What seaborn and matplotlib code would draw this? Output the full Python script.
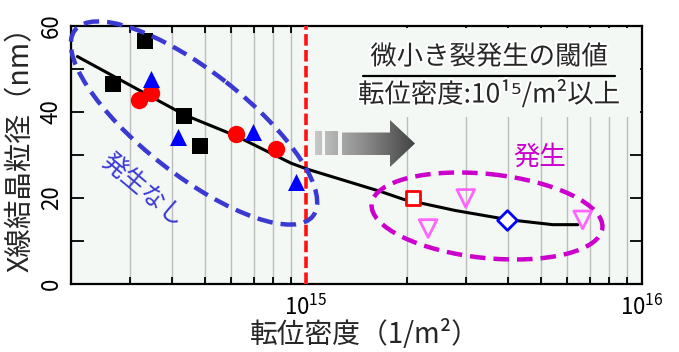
import numpy as np
import pandas as pd
import matplotlib
matplotlib.use("Agg")
import matplotlib.pyplot as plt
import seaborn as sns
from matplotlib.patches import Ellipse, Rectangle
from matplotlib.path import Path
from matplotlib.transforms import Affine2D
from matplotlib.colors import LinearSegmentedColormap
import matplotlib.patheffects as pe
from matplotlib.ticker import LogLocator, FixedLocator, NullFormatter

# 発生なし (black squares, red circles, blue triangles)
sq_x = [2.66e14, 3.31e14, 4.35e14, 4.85e14]
sq_y = [46.5, 56.4, 39.1, 32.2]
circ_x = [3.19e14, 3.45e14, 6.21e14, 8.17e14]
circ_y = [42.8, 44.5, 35.0, 31.3]
tri_x = [3.45e14, 4.17e14, 6.94e14, 9.36e14]
tri_y = [47.6, 34.3, 35.4, 23.8]

# 発生 (open markers)
osq_x = [2.08e15]
osq_y = [19.9]
otri_x = [2.31e15, 2.99e15, 6.66e15]
otri_y = [12.9, 19.9, 14.9]
dia_x = [3.97e15]
dia_y = [15.0]

# trend curve
curve_x = [2.09e14, 4.36e14, 6.21e14, 9.03e14, 1.01e15, 1.67e15, 1.95e15,
           2.78e15, 3.97e15, 5.42e15, 6.44e15]
curve_y = [52.9, 39.3, 34.4, 28.1, 26.7, 21.5, 19.7, 17.1, 15.0, 13.8, 13.8]

W, H = 679, 352
BG = "#f3f8f4"

sns.set_theme(style="ticks")
plt.rcParams["font.family"] = ["Noto Sans CJK JP", "DejaVu Sans"]

fig = plt.figure(figsize=(W / 100, H / 100), dpi=100)
ax = fig.add_axes([71 / W, 1 - 284 / H, (642 - 71) / W, (284 - 26) / H])
ax.set_facecolor(BG)
ax.set_xscale("log")

# image-pixel coordinates -> figure
pix = Affine2D().scale(1 / W, -1 / H).translate(0, 1) + fig.transFigure

sns.lineplot(x=curve_x, y=curve_y, color="black", lw=2.2, ax=ax, zorder=4)

ms = 125
sns.scatterplot(x=sq_x, y=sq_y, marker="s", color="black", s=ms, linewidth=0, ax=ax, zorder=5)
sns.scatterplot(x=circ_x, y=circ_y, marker="o", color="#ff0000", s=ms * 1.25, linewidth=0, ax=ax, zorder=5)
sns.scatterplot(x=tri_x, y=tri_y, marker="^", color="#0000ff", s=ms * 1.2, linewidth=0, ax=ax, zorder=5)
sns.scatterplot(x=osq_x, y=osq_y, marker="s", facecolor="white", edgecolor="#ff0000", s=ms * 0.9,
                linewidth=2, ax=ax, zorder=7)
sns.scatterplot(x=otri_x, y=otri_y, marker="v", facecolor="none", edgecolor="#ff66ff", s=ms * 1.3,
                linewidth=2, ax=ax, zorder=7)
sns.scatterplot(x=dia_x, y=dia_y, marker="D", facecolor="white", edgecolor="#0000ff", s=ms * 0.8,
                linewidth=2, ax=ax, zorder=7)

# threshold line at 10^15
ax.axvline(1e15, color="white", lw=2.6, zorder=3)
ax.axvline(1e15, color="#ff1010", lw=2.6, ls=(0, (3.2, 1.2)), zorder=3.1)

ax.set_xlim(2e14, 1e16)
ax.set_ylim(0, 60)
ax.xaxis.set_major_locator(FixedLocator([1e15, 1e16]))
ax.xaxis.set_minor_locator(LogLocator(base=10, subs=np.arange(2, 10)))
ax.xaxis.set_minor_formatter(NullFormatter())
ax.set_yticks([0, 20, 40, 60])
ax.set_yticks([10, 30, 50], minor=True)
ax.grid(which="minor", axis="x", color="#bdbdbd", lw=1)
ax.set_axisbelow(True)
ax.tick_params(which="both", direction="in", top=True, right=True, colors="black",
               labelsize=16, width=1.3)
ax.tick_params(which="major", length=9)
ax.tick_params(which="minor", length=5)
ax.tick_params(axis="y", which="both", length=9, labelrotation=90, pad=6)
ax.tick_params(axis="x", pad=8)
for lab in ax.get_yticklabels():
    lab.set_va("center")
for sp in ax.spines.values():
    sp.set_linewidth(1.6)
    sp.set_color("black")

ax.set_xlabel("転位密度（1/m²）", fontsize=20, labelpad=0)
ax.set_ylabel("X線結晶粒径（nm）", fontsize=20.5, labelpad=3)
ax.xaxis.label.set_x(0.515)
ax.yaxis.label.set_y(0.55)

# box behind the note hides the grid
ax.add_patch(Rectangle((330, 28), 310, 89, transform=pix, facecolor=BG, edgecolor="none", zorder=1))
halo = [pe.withStroke(linewidth=3, foreground="white")]
fig.text(489 / W, 1 - 57 / H, "微小き裂発生の閾値", fontsize=19, ha="center", va="center",
         path_effects=halo)
fig.add_artist(plt.Line2D([363 / W, 615 / W], [1 - 76 / H, 1 - 76 / H], color="black", lw=1.6))
fig.text(489 / W, 1 - 94 / H, "転位密度:10¹⁵/m²以上", fontsize=19, ha="center", va="center",
         path_effects=halo)

# ellipses
ax.add_patch(Ellipse((194, 123), 302, 104, angle=38, transform=pix, fill=False,
                     edgecolor="#3a3ad2", lw=3.2, ls=(0, (3.5, 1.8)), zorder=6, clip_on=False))
ax.add_patch(Ellipse((487, 216), 232, 84, angle=6, transform=pix, fill=False,
                     edgecolor="#cc00cc", lw=3.2, ls=(0, (3.5, 1.8)), zorder=6, clip_on=False))
fig.text(143 / W, 1 - 190 / H, "発生なし", fontsize=18, color="#3a3ad2", rotation=-40,
         ha="center", va="center", rotation_mode="anchor")
fig.text(540 / W, 1 - 157 / H, "発生", fontsize=19, color="#cc00cc", ha="center", va="center")

# gradient arrow
ov = fig.add_axes([0, 0, 1, 1], zorder=5)
ov.axis("off")
ov.patch.set_alpha(0)
polys = [
    [(315, 131), (322, 131), (322, 155), (315, 155)],
    [(325, 131), (338, 131), (338, 155), (325, 155)],
    [(342, 132.5), (390, 132.5), (390, 120), (415, 143.5), (390, 167), (390, 155), (342, 155)],
]
clip = Path.make_compound_path(*[Path(np.array(p + [p[0]]), closed=True) for p in polys])
cmap = LinearSegmentedColormap.from_list("g", ["#c8c8c8", "#8a8a8a", "#444444"])
im = ov.imshow(np.linspace(0, 1, 200)[None, :], cmap=cmap, extent=(315, 415, 167, 120),
               aspect="auto", interpolation="bilinear")
ov.set_xlim(0, W)
ov.set_ylim(H, 0)
im.set_clip_path(clip, transform=ov.transData)

fig.savefig("out.png", dpi=100)
